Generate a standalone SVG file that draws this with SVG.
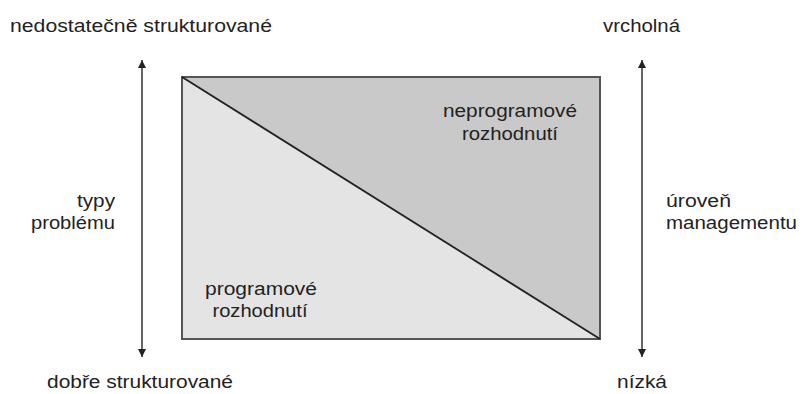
<svg xmlns="http://www.w3.org/2000/svg" width="806" height="394" viewBox="0 0 806 394">
<style>
text{font-family:"Liberation Sans",Arial,sans-serif;font-size:17.5px;fill:#222}
.c{text-anchor:middle}
.e{text-anchor:end}
.ax{stroke:#333;stroke-width:1.5;fill:none}
</style>
<defs>
<marker id="ah" viewBox="0 0 10 10" refX="10" refY="5" markerWidth="10" markerHeight="8" markerUnits="userSpaceOnUse" orient="auto-start-reverse">
<path d="M0,0 L10,5 L0,10 z" fill="#222"/>
</marker>
</defs>
<rect width="806" height="394" fill="#fff"/>
<g id="matrix">
<polygon points="182,77 182,339 600,339" fill="#e4e4e4"/>
<polygon points="182,77 600,77 600,339" fill="#c9c9c9"/>
<rect x="182" y="77" width="418" height="262" fill="none" stroke="#555" stroke-width="2"/>
<line x1="182" y1="77" x2="600" y2="339" stroke="#222" stroke-width="1.8"/>
</g>
<g id="connectors">
<line class="ax" x1="142" y1="60" x2="142" y2="357" marker-start="url(#ah)" marker-end="url(#ah)"/>
<line class="ax" x1="642" y1="60" x2="642" y2="357" marker-start="url(#ah)" marker-end="url(#ah)"/>
</g>
<g id="top-left"><text x="10" y="32" textLength="262" lengthAdjust="spacingAndGlyphs">nedostatečně strukturované</text></g>
<g id="top-right"><text x="603" y="32" textLength="77" lengthAdjust="spacingAndGlyphs">vrcholná</text></g>
<g id="bottom-left"><text x="47" y="388" textLength="186" lengthAdjust="spacingAndGlyphs">dobře strukturované</text></g>
<g id="bottom-right"><text x="617" y="388" textLength="50" lengthAdjust="spacingAndGlyphs">nízká</text></g>
<g id="typy"><text class="e" x="115" y="207" textLength="38" lengthAdjust="spacingAndGlyphs">typy</text><text class="e" x="115" y="229" textLength="84" lengthAdjust="spacingAndGlyphs">problému</text></g>
<g id="uroven"><text x="666" y="207" textLength="65" lengthAdjust="spacingAndGlyphs">úroveň</text><text x="666" y="229" textLength="131" lengthAdjust="spacingAndGlyphs">managementu</text></g>
<g id="neprog"><text class="c" x="510" y="117" textLength="134" lengthAdjust="spacingAndGlyphs">neprogramové</text><text class="c" x="510" y="140" textLength="96" lengthAdjust="spacingAndGlyphs">rozhodnutí</text></g>
<g id="prog"><text class="c" x="261" y="295" textLength="112" lengthAdjust="spacingAndGlyphs">programové</text><text class="c" x="260" y="317" textLength="95" lengthAdjust="spacingAndGlyphs">rozhodnutí</text></g>
</svg>
